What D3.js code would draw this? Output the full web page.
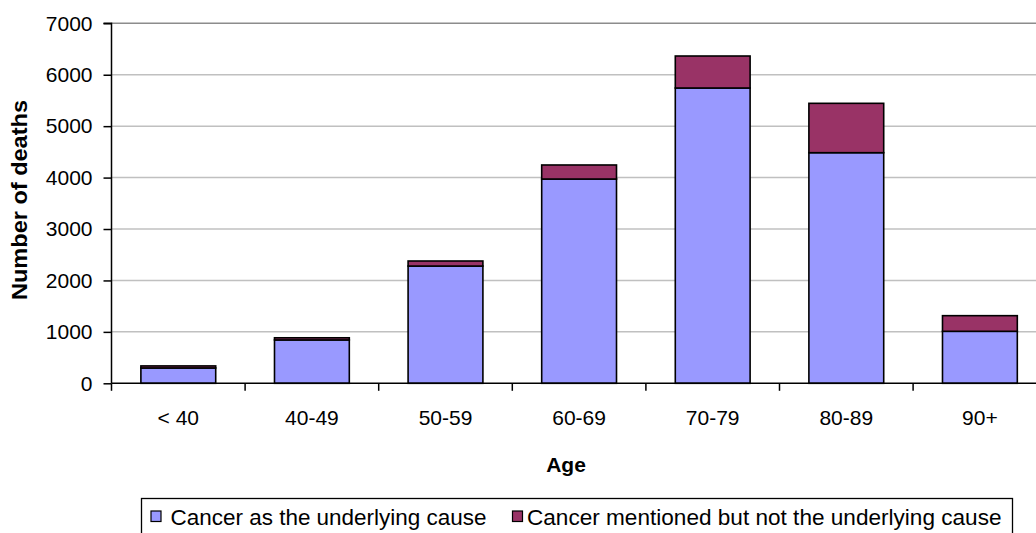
<!DOCTYPE html>
<html>
<head>
<meta charset="utf-8">
<script src="https://cdn.jsdelivr.net/npm/d3@7"></script>
<style>
  html, body { margin: 0; padding: 0; background: #fff; }
  svg { display: block; font-family: "Liberation Sans", Arial, sans-serif; }
</style>
</head>
<body>
<svg id="chart" width="1036" height="533"></svg>
<script>
const categories = ["< 40", "40-49", "50-59", "60-69", "70-79", "80-89", "90+"];
const underlying = [298, 843, 2280, 3972, 5742, 4484, 1011];
const mentioned  = [40, 42, 98, 273, 622, 960, 304];
const seriesNames = ["Cancer as the underlying cause", "Cancer mentioned but not the underlying cause"];
const seriesColors = ["#9999FF", "#993366"];
const yTicks = [0, 1000, 2000, 3000, 4000, 5000, 6000, 7000];

(function () {
const svg = d3.select("#chart");
const W = 1036, H = 533;
const mLeft = 111.5, mTop = 23.3, mBottom = 383.3;
const bandW = 133.6;
const mRight = mLeft + bandW * categories.length;

const x = d3.scaleBand().domain(categories).range([mLeft, mRight]).paddingInner(0.44).paddingOuter(0.22);
const y = d3.scaleLinear().domain([0, 7000]).range([mBottom, mTop]);

// gridlines
svg.append("g").selectAll("line").data(yTicks.filter(d => d > 0)).join("line")
  .attr("x1", mLeft).attr("x2", W)
  .attr("y1", d => y(d)).attr("y2", d => y(d))
  .attr("stroke", d => d === 7000 ? "#8c8c8c" : "#c0c0c0").attr("stroke-width", 1.5);

// stacked bars
const data = categories.map((c, i) => ({ cat: c, a: underlying[i], b: mentioned[i] }));
const stack = d3.stack().keys(["a", "b"])(data);
svg.append("g").selectAll("g").data(stack).join("g")
  .attr("fill", (d, i) => seriesColors[i])
  .selectAll("rect").data(d => d).join("rect")
  .attr("x", d => x(d.data.cat))
  .attr("width", x.bandwidth())
  .attr("y", d => y(d[1]))
  .attr("height", d => y(d[0]) - y(d[1]))
  .attr("stroke", "#000").attr("stroke-width", 1.6);

// y axis
const yAxis = d3.axisLeft(y).tickValues(yTicks).tickSize(8).tickPadding(11).tickFormat(d3.format("d"));
const gy = svg.append("g").attr("transform", `translate(${mLeft},0)`).call(yAxis);
gy.select(".domain").attr("stroke", "#000").attr("stroke-width", 1.5).attr("d", `M-8,${mTop}H0V${mBottom}`);
gy.selectAll(".tick line").attr("stroke", "#000").attr("stroke-width", 1.5);
gy.selectAll(".tick text").attr("font-size", 21).attr("fill", "#000")
  .attr("font-family", "Liberation Sans, Arial, sans-serif");

// x axis
const xAxis = d3.axisBottom(x).tickSize(0).tickPadding(0);
const gx = svg.append("g").attr("transform", `translate(0,${mBottom})`).call(xAxis);
gx.select(".domain").attr("stroke", "#000").attr("stroke-width", 1.5).attr("d", `M${mLeft},0H${W}`);
gx.selectAll(".tick text").attr("font-size", 21).attr("fill", "#000").attr("y", 42).attr("dy", 0)
  .attr("font-family", "Liberation Sans, Arial, sans-serif");
// category boundary ticks
svg.append("g").selectAll("line").data(d3.range(categories.length + 1)).join("line")
  .attr("x1", i => mLeft + i * bandW).attr("x2", i => mLeft + i * bandW)
  .attr("y1", mBottom).attr("y2", mBottom + 7.5)
  .attr("stroke", "#000").attr("stroke-width", 1.5);

// axis titles
svg.append("text").attr("x", 566).attr("y", 471.5).attr("text-anchor", "middle")
  .attr("font-size", 21).attr("font-weight", "bold").text("Age");
svg.append("text").attr("transform", "translate(27,200) rotate(-90)").attr("text-anchor", "middle")
  .attr("font-size", 21.5).attr("font-weight", "bold")
  .attr("textLength", 200).attr("lengthAdjust", "spacingAndGlyphs").text("Number of deaths");

// legend
const lg = svg.append("g");
lg.append("rect").attr("x", 141.5).attr("y", 498.5).attr("width", 871).attr("height", 40)
  .attr("fill", "#fff").attr("stroke", "#000").attr("stroke-width", 1.3);
const legendItems = [
  { sx: 151, tx: 170.5, tw: 316 },
  { sx: 512.5, tx: 527, tw: 474.5 }
];
legendItems.forEach((it, i) => {
  lg.append("rect").attr("x", it.sx).attr("y", 511).attr("width", 10).attr("height", 10.5)
    .attr("fill", seriesColors[i]).attr("stroke", "#000").attr("stroke-width", 1.2);
  lg.append("text").attr("x", it.tx).attr("y", 525).attr("font-size", 21.5)
    .attr("textLength", it.tw).attr("lengthAdjust", "spacingAndGlyphs").text(seriesNames[i]);
});
})();
</script>
</body>
</html>
